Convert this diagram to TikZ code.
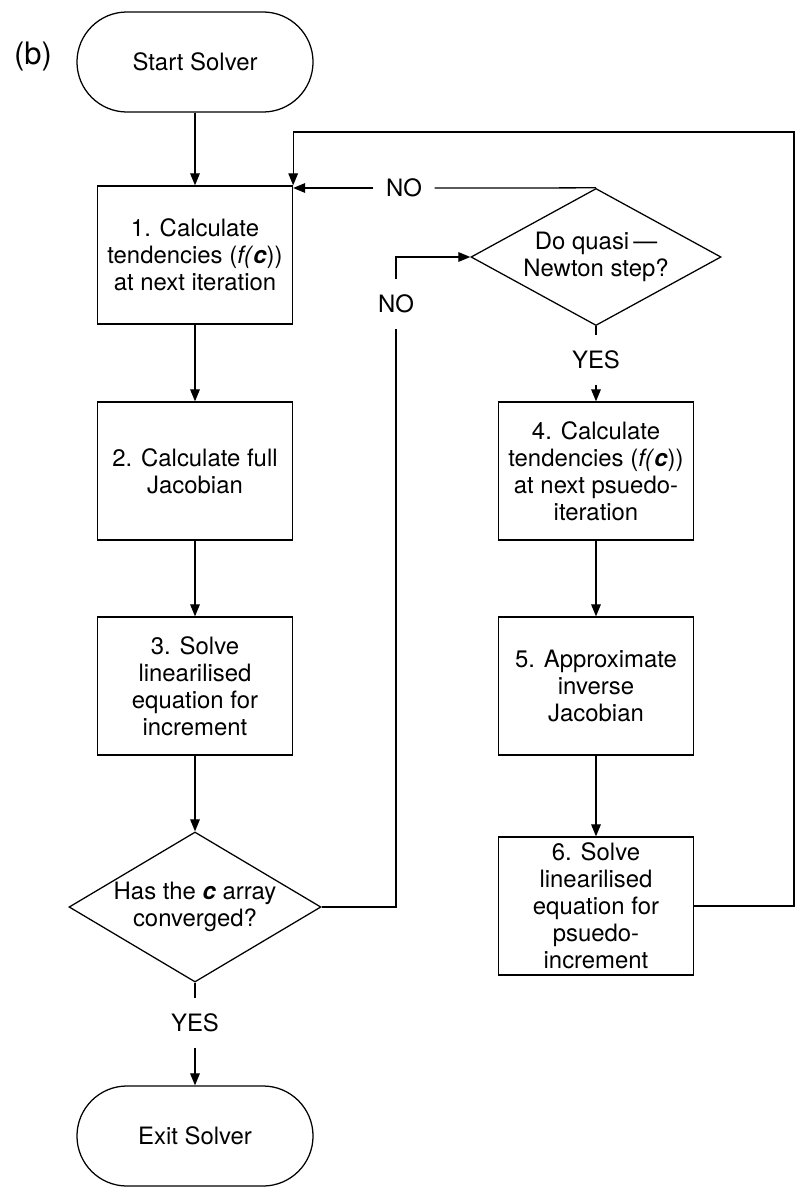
\documentclass[tikz,border=0pt]{standalone}
\usepackage{fontspec}
\setmainfont{TeX Gyre Heros}
\usetikzlibrary{shapes.geometric,arrows.meta}

\begin{document}
\begin{tikzpicture}[x=0.025cm,y=-0.025cm,line width=0.9pt,
        >={Triangle[length=3mm,width=2.4mm]},
        process/.style = {rectangle, draw,
            minimum width=4.875cm, minimum height=3.45cm,
            inner sep=0pt, align=center,
            font=\fontsize{17}{19.2}\selectfont},
        terminal/.style = {rectangle, draw,
            rounded corners=1.25cm,
            minimum width=5.9cm, minimum height=2.5cm,
            font=\fontsize{17}{19.2}\selectfont},
        decision/.style = {diamond, draw, aspect=1.8,
            minimum width=6.25cm,
            inner sep=0pt, align=center,
            font=\fontsize{17}{19.2}\selectfont},
        answer/.style = {inner xsep=0.3cm, inner ysep=0pt,
            minimum height=1.2cm,
            font=\fontsize{17}{19.2}\selectfont}]

        \useasboundingbox (0,0) rectangle (797,1188);

        % Panel label
        \node[font=\fontsize{22}{26}\selectfont] (panel) at (33,57) {(b)};

        % Main column
        \node[terminal] (start) at (195,62) {Start Solver};
        \node[process] (calc1) at (195,255)
            {1. Calculate\\tendencies (\textit{f(}\textbf{\textit{c}}))\\at next iteration};
        \node[process] (calc2) at (195,471) {2. Calculate full\\Jacobian};
        \node[process] (solve3) at (195,686)
            {3. Solve\\linearilised\\equation for\\increment};
        \node[decision, minimum height=3.75cm] (conv) at (195,907)
            {Has the \textbf{\textit{c}} array\\converged?};
        \node[answer] (yesconv) at (195,1023) {YES};
        \node[terminal] (exit) at (195,1136) {Exit Solver};

        % Quasi-Newton column
        \node[decision, minimum height=3.425cm] (quasi) at (596,257)
            {Do quasi\,\textemdash\\Newton step?};
        \node[answer] (yesquasi) at (596,360) {YES};
        \node[process] (calc4) at (596,471)
            {4. Calculate\\tendencies (\textit{f(}\textbf{\textit{c}}))\\at next psuedo-\\iteration};
        \node[process] (approx5) at (596,686)
            {5. Approximate\\inverse\\Jacobian};
        \node[process] (solve6) at (596,906)
            {6. Solve\\linearilised\\equation for\\psuedo-\\increment};

        % NO labels
        \node[answer] (noquasi) at (404,188) {NO};
        \node[answer] (noconv) at (396,304) {NO};
        \coordinate (loop) at (794,132);

        % Connectors
        \draw[->] (start) -- (calc1);
        \draw[->] (calc1) -- (calc2);
        \draw[->] (calc2) -- (solve3);
        \draw[->] (solve3) -- (conv);
        \draw (conv.south) -- (yesconv.north);
        \draw[->] (yesconv.south) -- (exit.north);

        \draw (conv.east) -| (noconv.south);
        \draw[->] (noconv.north) |- (quasi.west);

        \draw (quasi.north) -- (noquasi.east);
        \draw[->] (noquasi.west) -- (noquasi.west -| calc1.east);

        \draw (quasi.south) -- (yesquasi.north);
        \draw[->] (yesquasi.south) -- (calc4.north);
        \draw[->] (calc4) -- (approx5);
        \draw[->] (approx5) -- (solve6);

        % Loop back to step 1
        \draw[->] (solve6.east) -| (loop) -| (calc1.north east);
    \end{tikzpicture}
\end{document}
